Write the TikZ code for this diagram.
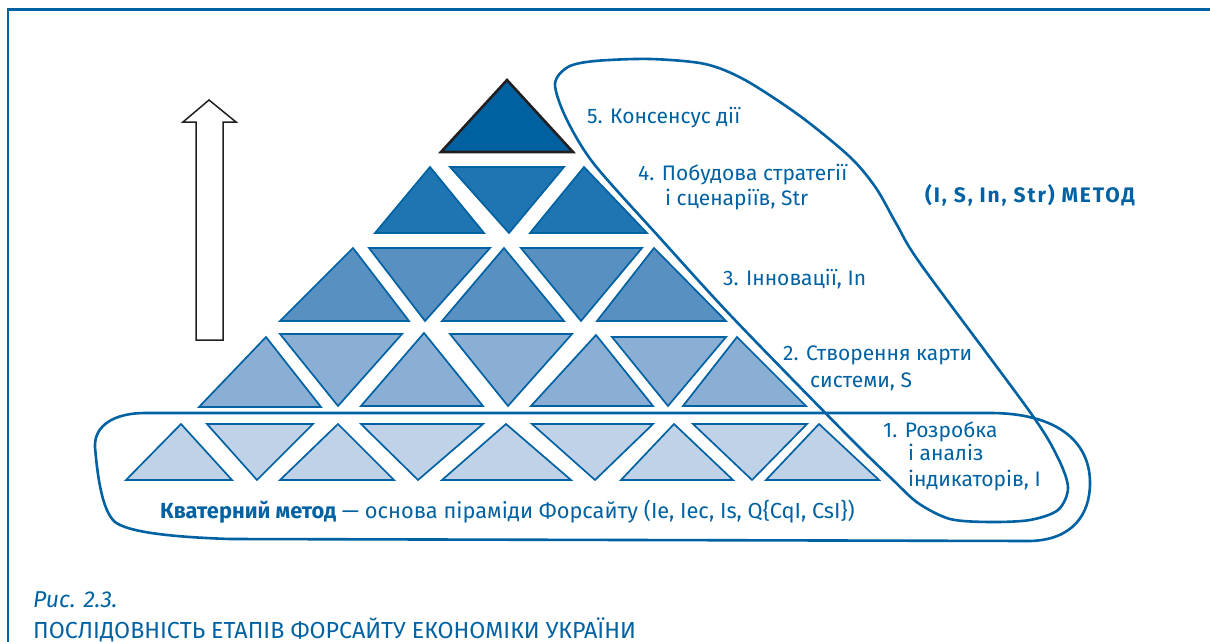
\documentclass[tikz,border=0pt]{standalone}
\usepackage{fontspec}
\setmainfont{Fira Sans}
\definecolor{tblue}{RGB}{0,98,163}
\definecolor{rowA}{RGB}{192,210,232}
\definecolor{rowB}{RGB}{138,174,212}
\definecolor{rowC}{RGB}{88,144,194}
\definecolor{rowD}{RGB}{30,117,178}
\definecolor{rowE}{RGB}{0,97,160}
\definecolor{arrowk}{RGB}{35,31,32}
\begin{document}
\begin{tikzpicture}[x=1pt,y=-1pt,
  tri/.style={draw=tblue,line width=1.7pt,line join=miter},
  triA/.style={tri,fill=rowA},
  triB/.style={tri,fill=rowB},
  triC/.style={tri,fill=rowC},
  triD/.style={tri,fill=rowD},
  triE/.style={draw=arrowk,line width=2.6pt,fill=rowE},
  blob/.style={draw=tblue,line width=2.6pt},
  lbl/.style={anchor=base west,inner sep=0pt,text=tblue,font=\fontsize{21}{24}\selectfont},
  capt/.style={anchor=base west,inner sep=0pt,text=tblue}]
\useasboundingbox (0,0) rectangle (1210,642);
\fill[white] (0,0) rectangle (1210,642);
% frame
\draw[tblue,line width=3pt] (7,10) -- (1210,10);
\draw[tblue,line width=2.5pt] (8,10) -- (8,642);
% arrow
\draw[arrowk,line width=1.5pt,fill=white,line join=miter]
  (196,340) -- (196,122) -- (183,122) -- (209,100) -- (236,122) -- (223,122) -- (223,340) -- cycle;
% row 1
\filldraw[triA] (126,480) -- (181,424) -- (232,480) -- cycle;
\filldraw[triA] (207,424) -- (313,424) -- (257,480) -- cycle;
\filldraw[triA] (280,480) -- (338,424) -- (394,480) -- cycle;
\filldraw[triA] (361,424) -- (483,424) -- (418,480) -- cycle;
\filldraw[triA] (442,480) -- (506,424) -- (571,480) -- cycle;
\filldraw[triA] (532,424) -- (653,424) -- (595,480) -- cycle;
\filldraw[triA] (621,480) -- (674,424) -- (733,480) -- cycle;
\filldraw[triA] (693,424) -- (807,424) -- (752,480) -- cycle;
\filldraw[triA] (766,480) -- (819,424) -- (879,480) -- cycle;
% row 2
\filldraw[triB] (199,407) -- (266,337) -- (321,407) -- cycle;
\filldraw[triB] (280,334) -- (402,334) -- (338,406) -- cycle;
\filldraw[triB] (361,406) -- (424,333) -- (483,406) -- cycle;
\filldraw[triB] (450,334) -- (572,334) -- (508,406) -- cycle;
\filldraw[triB] (531,406) -- (596,335) -- (653,406) -- cycle;
\filldraw[triB] (612,337) -- (726,337) -- (668,406) -- cycle;
\filldraw[triB] (683,406) -- (737,337) -- (806,406) -- cycle;
% row 3
\filldraw[triC] (280,321) -- (353,248) -- (409,321) -- cycle;
\filldraw[triC] (369,248) -- (490,248) -- (425,321) -- cycle;
\filldraw[triC] (442,321) -- (504,248) -- (564,321) -- cycle;
\filldraw[triC] (521,248) -- (642,248) -- (581,321) -- cycle;
\filldraw[triC] (597,321) -- (654,248) -- (726,321) -- cycle;
% row 4
\filldraw[triD] (375,233) -- (430,167) -- (484,233) -- cycle;
\filldraw[triD] (450,167) -- (564,167) -- (509,233) -- cycle;
\filldraw[triD] (530,233) -- (584,167) -- (647,233) -- cycle;
% row 5
\filldraw[triE] (441,152) -- (507,80) -- (573,152) -- cycle;
% bottom enclosure
\draw[blob] (145,413) -- (990,413)
  .. controls (1055,413) and (1090,440) .. (1090,483)
  .. controls (1090,515) and (1072,540) .. (1030,541)
  -- (230,539)
  .. controls (170,537) and (128,532) .. (115,522)
  .. controls (101,510) and (97,470) .. (95,447)
  .. controls (94,425) and (115,413) .. (145,413) -- cycle;
% right enclosure
\draw[blob] plot[smooth cycle,tension=0.5] coordinates {
  (555,84) (568,67) (595,61) (650,59) (705,64) (745,80) (800,116) (850,157)
  (876,188) (897,225) (922,266) (1030,412) (1058,458) (1068,488) (1058,510)
  (1030,520) (990,522) (950,519) (918,503) (892,479) (848,436) (733,318)
  (660,238) (594,164) (566,118)};
% labels
\node[lbl] (l5) at (587,123) {5. Консенсус дії};
\node[lbl] (l4a) at (638,180) {4. Побудова стратегії};
\node[lbl] (l4b) at (665,205) {і сценаріїв, Str};
\node[lbl] (l3) at (723,285) {3. Інновації, In};
\node[lbl] (l2a) at (783,360) {2. Створення карти};
\node[lbl] (l2b) at (810,387) {системи, S};
\node[lbl] (l1a) at (883,437) {1. Розробка};
\node[lbl] (l1b) at (908,460) {і аналіз};
\node[lbl] (l1c) at (908,486) {індикаторів, I};
\node[lbl,font=\fontsize{21}{24}\selectfont\bfseries\addfontfeature{LetterSpace=9}] (meth) at (925,202) {(I, S, In, Str) МЕТОД};
\node[lbl,font=\fontsize{21.8}{24}\selectfont] (quat) at (160,518) {\textbf{Кватерний метод} — основа піраміди Форсайту (Ie, Iec, Is, Q\{CqI, CsI\})};
\node[capt,font=\fontsize{23}{26}\selectfont\itshape] (fig) at (33,607) {Рис. 2.3.};
\node[capt,font=\fontsize{23.2}{26}\selectfont] (title) at (33,638) {ПОСЛІДОВНІСТЬ ЕТАПІВ ФОРСАЙТУ ЕКОНОМІКИ УКРАЇНИ};
\end{tikzpicture}
\end{document}
